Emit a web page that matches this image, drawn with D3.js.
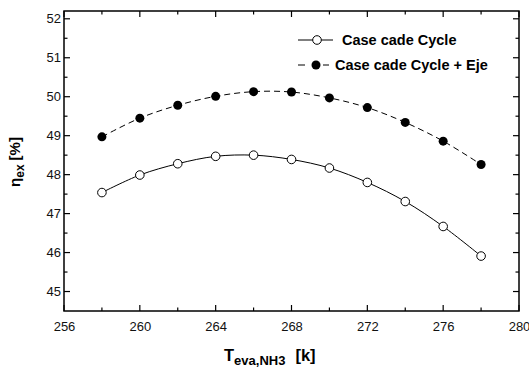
<!DOCTYPE html>
<html><head><meta charset="utf-8">
<script src="https://cdn.jsdelivr.net/npm/d3@7"></script>
<style>body{margin:0;background:#fff}text{font-family:Arial,"Liberation Sans",sans-serif}</style>
</head><body><svg id="c" width="529" height="367"></svg>
<script>
const temps = [258,260,262,264,266,268,270,272,274,276,278];
const cascade = [47.54,47.99,48.28,48.47,48.50,48.39,48.17,47.80,47.31,46.67,45.91];
const cascadeEje = [48.97,49.45,49.78,50.01,50.13,50.12,49.97,49.72,49.34,48.86,48.26];
const xTicks = [256,260,264,268,272,276,280];
const yTicks = [45,46,47,48,49,50,51,52];
const seriesNames = ["Case cade Cycle","Case cade Cycle + Eje"];

const svg = d3.select("#c");
const L=64,R=519,T=11,B=311;
const x = d3.scaleLinear().domain([256,280]).range([L,R]);
const y = d3.scaleLinear().domain([44.5,52.2]).range([B,T]);

const g = svg.append("g");
const xMinor = d3.range(256,281,2);
const yMinor = d3.range(45,52.01,0.5);
xMinor.forEach(v=>{
  const len = xTicks.includes(v)?6:3.5;
  g.append("line").attr("x1",x(v)).attr("x2",x(v)).attr("y1",B).attr("y2",B-len).attr("stroke","#000").attr("stroke-width",1.2);
  g.append("line").attr("x1",x(v)).attr("x2",x(v)).attr("y1",T).attr("y2",T+len).attr("stroke","#000").attr("stroke-width",1.2);
});
yMinor.forEach(v=>{
  const len = Number.isInteger(v)?6:3.5;
  g.append("line").attr("x1",L).attr("x2",L+len).attr("y1",y(v)).attr("y2",y(v)).attr("stroke","#000").attr("stroke-width",1.2);
  g.append("line").attr("x1",R).attr("x2",R-len).attr("y1",y(v)).attr("y2",y(v)).attr("stroke","#000").attr("stroke-width",1.2);
});
g.append("rect").attr("x",L).attr("y",T).attr("width",R-L).attr("height",B-T).attr("fill","none").attr("stroke","#000").attr("stroke-width",1.5);

const xAxis = d3.axisBottom(x).tickValues(xTicks).tickSize(0).tickPadding(11);
svg.append("g").attr("transform",`translate(0,${B})`).call(xAxis)
  .call(a=>{a.select(".domain").remove();a.selectAll("text").attr("font-size",13).attr("fill","#111").style("font-family","Arial, 'Liberation Sans', sans-serif");});
const yAxis = d3.axisLeft(y).tickValues(yTicks).tickSize(0).tickPadding(3);
svg.append("g").attr("transform",`translate(${L},0)`).call(yAxis)
  .call(a=>{a.select(".domain").remove();a.selectAll("text").attr("font-size",13).attr("fill","#111").style("font-family","Arial, 'Liberation Sans', sans-serif");});

const line = d3.line().curve(d3.curveCatmullRom.alpha(0.5)).x(d=>x(d[0])).y(d=>y(d[1]));
const d1 = temps.map((t,i)=>[t,cascade[i]]);
const d2 = temps.map((t,i)=>[t,cascadeEje[i]]);
svg.append("path").attr("d",line(d1)).attr("fill","none").attr("stroke","#000").attr("stroke-width",1);
svg.append("path").attr("d",line(d2)).attr("fill","none").attr("stroke","#000").attr("stroke-width",1).attr("stroke-dasharray","6,4");
svg.selectAll(".p1").data(d1).enter().append("circle").attr("cx",d=>x(d[0])).attr("cy",d=>y(d[1])).attr("r",4.3).attr("fill","#fff").attr("stroke","#000").attr("stroke-width",1);
svg.selectAll(".p2").data(d2).enter().append("circle").attr("cx",d=>x(d[0])).attr("cy",d=>y(d[1])).attr("r",4.5).attr("fill","#000");

// legend
const lg = svg.append("g");
lg.append("line").attr("x1",298).attr("x2",333).attr("y1",40).attr("y2",40).attr("stroke","#000").attr("stroke-width",1);
lg.append("circle").attr("cx",317).attr("cy",40).attr("r",4.3).attr("fill","#fff").attr("stroke","#000");
lg.append("text").attr("x",342).attr("y",45).attr("font-size",14.5).attr("font-weight","bold").text(seriesNames[0]);
lg.append("line").attr("x1",298).attr("x2",305).attr("y1",65).attr("y2",65).attr("stroke","#000").attr("stroke-width",1);
lg.append("line").attr("x1",323).attr("x2",329).attr("y1",65).attr("y2",65).attr("stroke","#000").attr("stroke-width",1);
lg.append("circle").attr("cx",316).attr("cy",65).attr("r",4.5).attr("fill","#000");
lg.append("text").attr("x",335).attr("y",70).attr("font-size",14.5).attr("font-weight","bold").text(seriesNames[1]);

// axis titles
const xt = svg.append("text").attr("x",224).attr("y",361).attr("font-weight","bold").attr("font-size",16.5);
xt.append("tspan").text("T");
xt.append("tspan").attr("font-size",13).attr("dy",4).text("eva,NH3");
xt.append("tspan").attr("dy",-4).attr("dx",10).text("[k]");
const yt = svg.append("text").attr("transform","translate(20,162) rotate(-90)").attr("text-anchor","middle").attr("font-weight","bold").attr("font-size",15);
yt.append("tspan").text("η");
yt.append("tspan").attr("font-size",12).attr("dy",4).text("ex");
yt.append("tspan").attr("dy",-4).attr("dx",4).text("[%]");
</script></body></html>
